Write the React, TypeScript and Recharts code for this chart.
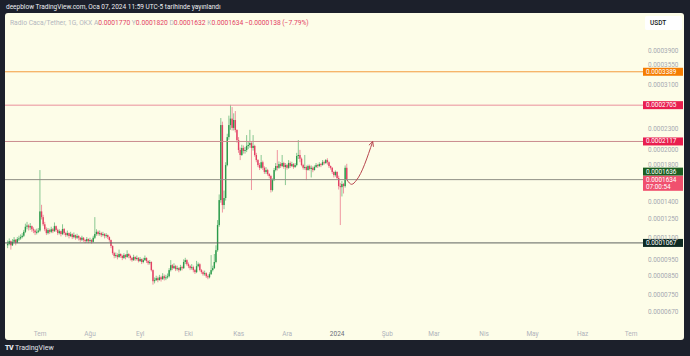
import React from 'react';
import { ComposedChart, Bar, Line, XAxis, YAxis, ReferenceLine } from 'recharts';

// prices are stored in units of 1e-7 USDT
const PRICE_UNIT = 1e-7;
const FIRST_DAY = -20; // day offsets from 1 Jul 2023
const FIRST_OPEN = 1050;

const closes = [
  1060, 1080, 1050, 1075, 1090, 1070, 1095, 1100, 1110, 1120,
  1150, 1190, 1200, 1185, 1195, 1170, 1160, 1145, 1150, 1160,
  1320, 1270, 1210, 1170, 1140, 1164, 1150, 1170, 1155, 1195,
  1165, 1140, 1155, 1133, 1172, 1140, 1125, 1140, 1118, 1132,
  1110, 1125, 1105, 1118, 1105, 1090, 1105, 1088, 1080, 1095,
  1080, 1088, 1075, 1105, 1133, 1150, 1133, 1140, 1125, 1133,
  1118, 1125, 1110, 1088, 1045, 996, 977, 983, 970, 990,
  977, 964, 983, 970, 990, 977, 964, 950, 970, 957,
  964, 944, 957, 938, 950, 964, 944, 931, 938, 888,
  824, 830, 841, 830, 846, 835, 852, 841, 846, 852,
  888, 918, 900, 912, 894, 900, 888, 906, 900, 938,
  950, 924, 912, 900, 906, 888, 876, 912, 924, 888,
  876, 864, 870, 852, 846, 864, 888, 900, 938, 1016,
  1204, 1425, 2365, 1378, 1445, 1805, 2180, 2365, 2470, 2320,
  2447, 2287, 2137, 1998, 1932, 2026, 1985, 1998, 2054, 2067,
  2095, 2026, 2054, 1932, 1867, 1805, 1772, 1840, 1772, 1723,
  1745, 1698, 1676, 1525, 1631, 1745, 1793, 1772, 1817, 1793,
  1830, 1782, 1805, 1772, 1830, 1793, 1817, 1782, 1805, 1919,
  1932, 1884, 1805, 1772, 1782, 1745, 1793, 1758, 1772, 1745,
  1782, 1805, 1793, 1817, 1805, 1840, 1830, 1867, 1840, 1793,
  1772, 1723, 1687, 1723, 1654, 1566, 1555, 1588, 1566, 1772, 1634,
];

const highs = [
  1085, 1100, 1085, 1095, 1110, 1095, 1110, 1120, 1130, 1140,
  1165, 1215, 1230, 1210, 1220, 1200, 1185, 1170, 1175, 1180,
  1745, 1380, 1290, 1230, 1185, 1180, 1175, 1190, 1180, 1225,
  1200, 1175, 1170, 1160, 1210, 1180, 1150, 1160, 1145, 1150,
  1140, 1145, 1130, 1135, 1125, 1110, 1120, 1110, 1095, 1110,
  1100, 1105, 1095, 1120, 1270, 1170, 1160, 1160, 1150, 1150,
  1140, 1140, 1130, 1115, 1092, 1050, 1005, 1000, 995, 1020,
  995, 985, 995, 990, 1015, 995, 985, 970, 985, 975,
  980, 970, 970, 960, 965, 980, 968, 950, 950, 942,
  892, 845, 855, 850, 860, 855, 870, 862, 860, 868,
  900, 950, 925, 930, 920, 915, 905, 920, 915, 955,
  965, 955, 935, 920, 925, 915, 895, 945, 935, 930,
  895, 885, 885, 875, 862, 875, 983, 915, 990, 1050,
  1245, 1480, 2480, 2420, 1520, 1840, 2230, 2520, 2710, 2670,
  2560, 2600, 2300, 2180, 2030, 2070, 2060, 2040, 2210, 2110,
  2290, 2120, 2210, 2070, 1960, 1880, 1830, 1932, 1860, 1790,
  1780, 1760, 1710, 1690, 1650, 1770, 1830, 1998, 1850, 1840,
  1932, 1845, 1830, 1820, 1867, 1850, 1845, 1830, 1830, 1960,
  2137, 2000, 1900, 1820, 1932, 1800, 1810, 1810, 1800, 1790,
  1800, 1830, 1820, 1840, 1830, 1867, 1860, 1880, 1890, 1850,
  1800, 1780, 1730, 1740, 1730, 1680, 1600, 1620, 1600, 1800, 1820,
];

const lows = [
  1030, 1050, 1020, 1045, 1065, 1050, 1065, 1080, 1090, 1100,
  1110, 1140, 1170, 1160, 1165, 1150, 1140, 1125, 1130, 1140,
  1150, 1250, 1195, 1155, 1125, 1130, 1135, 1140, 1140, 1150,
  1150, 1125, 1130, 1115, 1125, 1125, 1110, 1115, 1100, 1110,
  1095, 1100, 1090, 1095, 1085, 1075, 1080, 1075, 1065, 1070,
  1065, 1070, 1062, 1070, 1095, 1120, 1120, 1120, 1110, 1115,
  1100, 1105, 1095, 1075, 1030, 985, 962, 965, 955, 965,
  965, 950, 958, 955, 965, 962, 948, 940, 945, 945,
  948, 935, 938, 925, 930, 945, 932, 920, 922, 880,
  805, 812, 825, 818, 828, 822, 832, 828, 830, 838,
  845, 880, 888, 895, 882, 885, 875, 882, 886, 895,
  925, 915, 900, 888, 890, 875, 865, 870, 905, 880,
  866, 855, 855, 842, 835, 840, 860, 880, 895, 930,
  1005, 1190, 1400, 1310, 1340, 1420, 1790, 2140, 2290, 2280,
  2280, 2250, 2100, 1960, 1867, 1920, 1950, 1950, 1970, 2010,
  2030, 1525, 1990, 1910, 1840, 1780, 1745, 1760, 1745, 1700,
  1700, 1680, 1650, 1500, 1510, 1620, 1730, 1740, 1760, 1770,
  1780, 1760, 1577, 1750, 1760, 1770, 1780, 1760, 1770, 1790,
  1880, 1840, 1790, 1750, 1750, 1631, 1740, 1740, 1660, 1720,
  1740, 1770, 1770, 1780, 1780, 1800, 1810, 1820, 1810, 1770,
  1750, 1700, 1660, 1670, 1640, 1530, 1204, 1460, 1490, 1550, 1632,
];

// hand-drawn projection arrow
const arrowDays = [190, 193, 196, 206];
const arrowPrices = [1634, 1585, 1631, 2117];

const monthTicks = [0, 31, 62, 92, 123, 153, 184, 215, 244, 275, 305, 336, 366];
const monthLabels = ['Tem', 'Ağu', 'Eyl', 'Eki', 'Kas', 'Ara', '2024', 'Şub', 'Mar', 'Nis', 'May', 'Haz', 'Tem'];
const priceTicks = [3900, 3550, 3100, 2300, 2000, 1800, 1400, 1250, 1100, 950, 850, 750, 670];

const levels = [3389, 2705, 2117, 1636, 1067];
const levelLineColors = ['#f39a3c', '#ea8f9b', '#c98a8e', '#8f8f85', '#5d625f'];
const levelTagColors = ['#f57c00', '#e91e4f', '#e91e4f', '#1b5e20', '#0e2a22'];
const levelTagShift = [0, 0, 0, -8, 0];
const lastPrice = 1634;
const lastTime = '07:00:54';

const UP = '#2a9a4a';
const DOWN = '#e33f64';
const FONT = 'Roboto, "Noto Sans", sans-serif';

const fmt = (v: number) => (v * PRICE_UNIT).toFixed(7);

const candles = closes.map((c, i) => {
  const o = i === 0 ? FIRST_OPEN : closes[i - 1];
  return {
    t: FIRST_DAY + i,
    o,
    c,
    h: Math.max(highs[i], o, c),
    l: Math.min(lows[i], o, c),
  };
});

const arrowData = arrowDays.map((t, i) => ({ t, p: arrowPrices[i] }));

const Candle = (props: any) => {
  const { x, y, width, height, payload } = props;
  if (!payload) return null;
  const { o, h, l, c } = payload;
  const top = Math.min(y, y + height);
  const bottom = Math.max(y, y + height);
  const span = Math.log(h) - Math.log(l);
  const py = (p: number) => (span === 0 ? top : top + ((Math.log(h) - Math.log(p)) / span) * (bottom - top));
  const color = c >= o ? UP : DOWN;
  const cx = x + width / 2;
  const bt = py(Math.max(o, c));
  const bb = py(Math.min(o, c));
  return (
    <g>
      <line x1={cx} x2={cx} y1={top} y2={bottom} stroke={color} strokeOpacity={0.55} strokeWidth={1} />
      <rect x={x} y={bt} width={width} height={Math.max(1, bb - bt)} fill={color} />
    </g>
  );
};

const MonthTick = (props: any) => {
  const { x, y, payload } = props;
  const idx = monthTicks.indexOf(payload.value);
  const label = monthLabels[idx] ?? '';
  const strong = label === '2024';
  return (
    <text x={x} y={y + 1} textAnchor="middle" dominantBaseline="middle" fontSize={6.5} fontFamily={FONT}
      fill={strong ? '#6a6d78' : '#b0b3bb'}>
      {label}
    </text>
  );
};

const PriceTick = (props: any) => {
  const { x, y, payload } = props;
  return (
    <text x={x} y={y} textAnchor="start" dominantBaseline="middle" fontSize={6.4} fontFamily={FONT} fill="#a6a9b1">
      {fmt(payload.value)}
    </text>
  );
};

const levelTag = (i: number) => (props: any) => {
  const vb = props.viewBox || {};
  const x0 = (vb.x ?? 0) + (vb.width ?? 0) - 1;
  const cy = (vb.y ?? 0) + levelTagShift[i];
  return (
    <g>
      <rect x={x0} y={cy - 4} width={40} height={8} fill={levelTagColors[i]} />
      <text x={x0 + 3} y={cy + 0.3} dominantBaseline="middle" fontSize={6.4} fontFamily={FONT} fill="#ffffff">
        {fmt(levels[i])}
      </text>
    </g>
  );
};

const lastTag = (props: any) => {
  const vb = props.viewBox || {};
  const x0 = (vb.x ?? 0) + (vb.width ?? 0) - 1;
  const cy = vb.y ?? 0;
  return (
    <g>
      <rect x={x0} y={cy - 4} width={40} height={15} fill="#f0506e" />
      <text x={x0 + 3} y={cy + 0.3} dominantBaseline="middle" fontSize={6.4} fontFamily={FONT} fill="#ffffff">
        {fmt(lastPrice)}
      </text>
      <text x={x0 + 3} y={cy + 7.3} dominantBaseline="middle" fontSize={6.4} fontFamily={FONT} fill="#ffffff">
        {lastTime}
      </text>
    </g>
  );
};

export default function App() {
  return (
    <div style={{ position: 'absolute', left: 0, top: 0, width: 690, height: 356, background: '#1c202b', overflow: 'hidden', fontFamily: FONT }}>
      <svg width={0} height={0} style={{ position: 'absolute' }}>
        <defs>
          <marker id="arrowHead" viewBox="0 0 10 10" refX="9" refY="5" markerWidth="6" markerHeight="6" orient="auto" markerUnits="userSpaceOnUse">
            <path d="M1,1 L9,5 L1,9" fill="none" stroke="#b8474f" strokeWidth={1.5} />
          </marker>
        </defs>
      </svg>
      <div style={{ position: 'absolute', left: 6, top: 3, fontSize: 6.5, color: '#eceef2', whiteSpace: 'nowrap', lineHeight: '8px' }}>
        deepblow TradingView.com, Oca 07, 2024 11:59 UTC-5 tarihinde yayınlandı
      </div>
      <div style={{ position: 'absolute', left: 5, top: 13, width: 679, height: 327, background: '#fdfde8', borderRadius: 3 }}>
        <ComposedChart width={679} height={327} data={candles} margin={{ top: 0, right: 0, bottom: 0, left: 0 }}>
          <XAxis type="number" dataKey="t" domain={[-21.7, 374]} allowDataOverflow ticks={monthTicks}
            axisLine={false} tickLine={false} height={15} tick={<MonthTick />} interval={0} />
          <YAxis orientation="right" scale="log" domain={[613, 5040]} allowDataOverflow ticks={priceTicks}
            axisLine={false} tickLine={false} tickSize={0} tickMargin={4} width={40} tick={<PriceTick />} interval={0} />
          <Bar dataKey={(d: any) => [d.l, d.h]} barSize={1.4} shape={<Candle />} isAnimationActive={false} />
          {levels.map((lv, i) => (
            <ReferenceLine key={lv} y={lv} stroke={levelLineColors[i]} strokeWidth={1} label={levelTag(i)} />
          ))}
          <ReferenceLine y={lastPrice} stroke="#f0506e" strokeOpacity={0} label={lastTag} />
          <Line data={arrowData} dataKey="p" type="monotone" stroke="#b8474f" strokeWidth={1} dot={false}
            markerEnd="url(#arrowHead)" isAnimationActive={false} />
        </ComposedChart>
        <div style={{ position: 'absolute', left: 5, top: 6, fontSize: 6.7, whiteSpace: 'nowrap', lineHeight: '8px', color: '#b4b7bf' }}>
          Radio Caca/Tether, 1G, OKX{'  '}
          <span>A</span><span style={{ color: '#e33f64' }}>0.0001770</span>{'  '}
          <span>Y</span><span style={{ color: '#e33f64' }}>0.0001820</span>{'  '}
          <span>D</span><span style={{ color: '#e33f64' }}>0.0001632</span>{'  '}
          <span>K</span><span style={{ color: '#e33f64' }}>0.0001634</span>{'  '}
          <span style={{ color: '#e33f64' }}>−0.0000138 (−7.79%)</span>
        </div>
        <div style={{ position: 'absolute', left: 640, top: 3, width: 37, height: 14, background: '#ffffff', borderRadius: 2,
          fontSize: 6.5, color: '#131722', lineHeight: '14px', paddingLeft: 5, boxSizing: 'border-box', fontWeight: 500 }}>
          USDT
        </div>
      </div>
      <div style={{ position: 'absolute', left: 5, top: 343, fontSize: 7, color: '#e4e6eb', whiteSpace: 'nowrap', lineHeight: '10px' }}>
        <span style={{ fontWeight: 900, letterSpacing: -0.5, marginRight: 2 }}>TV</span>TradingView
      </div>
    </div>
  );
}
